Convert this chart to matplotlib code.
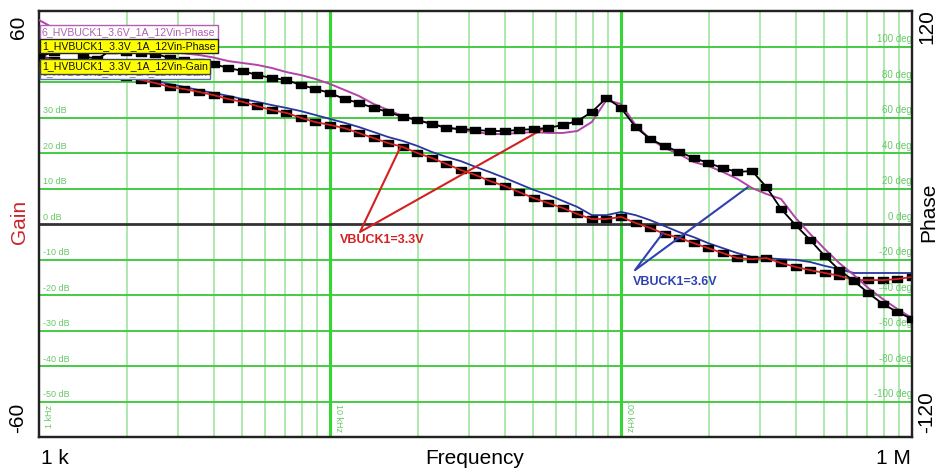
import matplotlib
matplotlib.use("Agg")
import matplotlib.pyplot as plt
from matplotlib.path import Path
import numpy as np

# ---------------- data ----------------
freq_hz = [1000, 1122, 1259, 1413, 1585, 1778, 1995, 2239, 2512, 2818,
           3162, 3548, 3981, 4467, 5012, 5623, 6310, 7079, 7943, 8913,
           10000, 11220, 12590, 14130, 15850, 17780, 19950, 22390, 25120, 28180,
           31620, 35480, 39810, 44670, 50120, 56230, 63100, 70790, 79430, 89130,
           100000, 112200, 125900, 141300, 158500, 177800, 199500, 223900, 251200, 281800,
           316200, 354800, 398100, 446700, 501200, 562300, 631000, 707900, 794300, 891300,
           1000000]

phase_33 = [94.1, 96.9, 109.3, 94.6, 93.0, 98.0, 96.9, 96.3, 95.8, 93.5,
            92.4, 91.3, 90.1, 87.9, 86.2, 83.9, 82.3, 81.1, 78.3, 76.1,
            73.8, 70.4, 68.2, 65.4, 63.1, 60.3, 58.6, 56.3, 54.1, 53.5,
            53.0, 52.4, 52.4, 53.0, 53.5, 54.1, 55.8, 58.0, 63.1, 71.0,
            65.4, 54.6, 47.9, 43.9, 40.6, 37.2, 34.4, 31.5, 29.3, 29.9,
            20.8, 8.5, -0.6, -9.0, -18.0, -25.9, -32.1, -38.9, -45.1, -49.6,
            -53.5]

phase_36 = [114.9, 110.4, 107.6, 104.8, 103.1, 100.8, 99.7, 98.6, 98.0, 96.9,
            96.1, 95.2, 93.8, 91.8, 90.7, 89.6, 87.9, 85.6, 83.9, 81.7,
            78.9, 75.5, 72.1, 67.6, 64.2, 60.8, 58.6, 56.3, 54.6, 53.0,
            51.8, 50.7, 50.7, 51.3, 51.8, 51.3, 51.3, 52.4, 57.5, 69.9,
            67.6, 55.8, 47.9, 42.8, 39.4, 34.9, 32.7, 29.3, 25.4, 20.3,
            16.9, 14.1, 3.4, -5.6, -14.1, -22.0, -28.7, -36.1, -42.3, -47.9,
            -53.0]

gain_33 = [47.0, 46.2, 45.4, 44.5, 43.4, 42.5, 41.4, 40.6, 39.7, 38.6,
           38.0, 37.2, 36.3, 35.2, 34.4, 33.2, 32.1, 31.3, 29.9, 28.7,
           27.9, 27.0, 25.6, 24.2, 22.8, 21.7, 20.0, 18.6, 16.9, 15.2,
           13.8, 12.1, 10.7, 9.0, 7.3, 5.9, 4.5, 2.8, 1.4, 1.4,
           2.0, 0.3, -1.1, -2.8, -3.9, -5.4, -6.8, -8.2, -9.6, -9.9,
           -9.6, -11.0, -12.1, -13.0, -13.8, -14.6, -15.8, -15.8, -15.8, -15.5,
           -14.9]

gain_36 = [47.3, 46.5, 45.6, 44.8, 43.9, 43.1, 42.0, 41.1, 40.3, 39.4,
           38.6, 37.7, 36.9, 36.1, 35.2, 34.4, 33.5, 32.7, 31.8, 30.7,
           29.6, 28.5, 27.3, 25.9, 24.5, 23.4, 22.0, 20.3, 18.9, 17.7,
           16.1, 14.6, 13.0, 11.3, 9.6, 8.2, 6.5, 4.8, 2.5, 2.5,
           3.4, 2.5, 1.1, -0.6, -2.3, -3.7, -5.4, -6.8, -8.2, -9.3,
           -9.6, -9.9, -10.1, -10.7, -11.8, -12.7, -13.8, -13.8, -13.8, -13.8,
           -13.8]

gain_ticks = [50, 40, 30, 20, 10, 0, -10, -20, -30, -40, -50]
phase_ticks = [100, 80, 60, 40, 20, 0, -20, -40, -60, -80, -100]
legend_labels = ["6_HVBUCK1_3.6V_1A_12Vin-Phase",
                 "1_HVBUCK1_3.3V_1A_12Vin-Phase",
                 "6_HVBUCK1_3.6V_1A_12Vin-Gain",
                 "1_HVBUCK1_3.3V_1A_12Vin-Gain"]
decade_labels = ["1 kHz", "10 kHz", "100 kHz"]

# ---------------- figure ----------------
W, H = 938, 471
plt.rcParams['font.family'] = ['Liberation Sans', 'DejaVu Sans']
fig = plt.figure(figsize=(W / 100, H / 100), dpi=100)
L, R, T, B = 39, 912, 11, 437
ax = fig.add_axes([L / W, 1 - B / H, (R - L) / W, (B - T) / H])
ax.set_xscale('log')
ax.set_xlim(1e3, 1e6)
ax.set_ylim(-60, 60)
ax2 = ax.twinx()
ax2.set_ylim(-120, 120)
for a in (ax, ax2):
    a.set_xticks([])
    a.set_yticks([])
    a.minorticks_off()
    for s in a.spines.values():
        s.set_linewidth(1.6)
        s.set_color('#222222')
ax.xaxis.set_minor_locator(matplotlib.ticker.NullLocator())

GRID_MINOR = '#9fe59f'
GRID_MAJOR = '#33d633'
GRID_H = '#44cc44'
LBL = '#66c866'

# vertical grid
for dec in [1e3, 1e4, 1e5]:
    for m in range(2, 10):
        ax.axvline(dec * m, color=GRID_MINOR, lw=1.2, zorder=0)
for dec in [1e4, 1e5]:
    ax.axvline(dec, color=GRID_MAJOR, lw=2.2, zorder=0)
# horizontal grid
for g in gain_ticks:
    if g == 0:
        continue
    ax.axhline(g, color=GRID_H, lw=1.4, zorder=0)
ax.axhline(0, color='#333333', lw=2.0, zorder=1)

# inner labels
for g in gain_ticks:
    ax.text(1.03e3, g + 0.6, f"{g} dB", color=LBL, fontsize=6.5,
            ha='left', va='bottom', zorder=1)
for p in phase_ticks:
    ax2.text(0.999e6, p + 1.2, f"{p} deg", color=LBL, fontsize=7,
             ha='right', va='bottom', zorder=1)
ax.text(1.05e3, -57.5, decade_labels[0], color=LBL, fontsize=6.5, rotation=90,
        ha='left', va='bottom')
ax.text(1.03e4, -58.5, decade_labels[1], color=LBL, fontsize=6.5, rotation=-90,
        ha='left', va='bottom')
ax.text(1.03e5, -58.5, decade_labels[2], color=LBL, fontsize=6.5, rotation=-90,
        ha='left', va='bottom')

# rectangular marker
rect = Path([(-1, -0.6), (1, -0.6), (1, 0.6), (-1, 0.6), (-1, -0.6)],
            [Path.MOVETO, Path.LINETO, Path.LINETO, Path.LINETO, Path.CLOSEPOLY])

# gain curves
ax.plot(freq_hz, gain_36, color='#2a35a0', lw=1.3, zorder=3)
ax.plot(freq_hz, gain_33, ls='none', marker=rect, ms=7, color='black', zorder=4)
ax.plot(freq_hz, gain_33, color='#d42020', lw=1.3, zorder=5)
# phase curves
ax2.plot(freq_hz, phase_36, color='#b443a8', lw=1.4, zorder=3)
ax2.plot(freq_hz, phase_33, color='black', lw=1.3, marker=rect, ms=7, zorder=4)

# annotations
red = '#d42020'
blue = '#3040b0'
ax.plot([17400, 12680, 53950], [21.4, -2.25, 26.8], color=red, lw=1.5, zorder=6)
ax.text(10820, -4.6, "VBUCK1=3.3V", color=red, fontsize=9, fontweight='bold',
        ha='left', va='center', zorder=6)
ax.plot([139400, 111700, 273000], [-2.5, -13.0, 10.4], color=blue, lw=1.5, zorder=6)
ax.text(109900, -16.2, "VBUCK1=3.6V", color=blue, fontsize=9, fontweight='bold',
        ha='left', va='center', zorder=6)

# legend-like boxes (top-left)
def px(x, y):
    return x / W, 1 - y / H

boxes = [
    (legend_labels[0], 32.5, 'white', '#b060b0', '#b060b0'),
    (legend_labels[1], 46.0, '#ffff00', '#222222', '#111111'),
    (legend_labels[2], 72.0, 'white', '#6070a0', '#777777'),
    (legend_labels[3], 66.5, '#ffff00', '#444444', '#111111'),
]
for i, (txt, yc, fc, ec, tc) in enumerate(boxes):
    x0, y0 = px(42, yc)
    fig.text(x0, y0, txt, fontsize=7.6, color=tc, ha='left', va='center',
             zorder=10 + i,
             bbox=dict(boxstyle='square,pad=0.2', fc=fc, ec=ec, lw=1.0))

# outer labels
def ftext(x, y, s, **kw):
    fx, fy = px(x, y)
    fig.text(fx, fy, s, ha='center', va='center', **kw)

ftext(18, 27, "60", fontsize=15, rotation=90)
ftext(18, 418, "-60", fontsize=15, rotation=90)
ftext(19, 222, "Gain", fontsize=15, rotation=90, color='#c8262b')
ftext(927, 27, "120", fontsize=15, rotation=90)
ftext(929, 212, "Phase", fontsize=15, rotation=90)
ftext(927, 412, "-120", fontsize=15, rotation=90)
ftext(55, 458, "1 k", fontsize=15)
ftext(475, 458, "Frequency", fontsize=15)
ftext(893, 458, "1 M", fontsize=15)

fig.savefig("out.png", dpi=100)
